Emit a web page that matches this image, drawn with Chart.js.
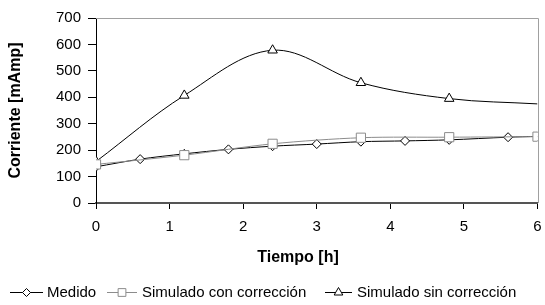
<!DOCTYPE html>
<html>
<head>
<meta charset="utf-8">
<script src="https://cdn.jsdelivr.net/npm/chart.js@4/dist/chart.umd.min.js"></script>
<style>
html,body{margin:0;padding:0;background:#fff;}
#wrap{position:relative;width:545px;height:305px;}
</style>
</head>
<body>
<div id="wrap"><canvas id="c" width="545" height="305"></canvas></div>
<script>
// Data
const medidoX = [0, 0.6, 1.2, 1.8, 2.4, 3.0, 3.6, 4.2, 4.8, 5.6, 6.0];
const medidoY = [137, 166, 186, 203, 215, 223, 232, 235, 239, 249, 252];
const conCorrX = [0, 1.2, 2.4, 3.6, 4.8, 6.0];
const conCorrY = [146, 181, 224, 247, 249, 251];
const sinCorrX = [0, 1.2, 2.4, 3.6, 4.8, 6.0];
const sinCorrY = [157, 407, 578, 455, 395, 375];
const sinCorrMarkers = [true, true, true, true, true, false];
const seriesNames = ['Medido', 'Simulado con corrección', 'Simulado sin corrección'];
const xTitle = 'Tiempo [h]';
const yTitle = 'Corriente [mAmp]';

const pts = (xs, ys) => xs.map((x, i) => ({x: x, y: ys[i]}));
const FONT = "'Liberation Sans', Arial, sans-serif";

const frame = {
  id: 'frame',
  afterDraw(chart) {
    const {ctx, chartArea: a} = chart;
    ctx.save();
    ctx.strokeStyle = '#a0a0a0';
    ctx.lineWidth = 1;
    ctx.beginPath();
    ctx.moveTo(a.left, a.top + 0.5);
    ctx.lineTo(Math.round(a.right) + 0.5, a.top + 0.5);
    ctx.lineTo(Math.round(a.right) + 0.5, a.bottom);
    ctx.stroke();
    // x axis title (offset left of plot center as in the reference)
    ctx.fillStyle = '#000';
    ctx.font = "bold 16px " + FONT;
    ctx.textAlign = 'center';
    ctx.textBaseline = 'middle';
    ctx.fillText(xTitle, 298, 258);
    ctx.restore();
  }
};

const legendLine = [[10, 43], [107, 137], [325, 352]];
const legendText = [47, 142, 357];
const customLegend = {
  id: 'customLegend',
  afterDraw(chart) {
    const ctx = chart.ctx;
    const y = 292;
    chart.data.datasets.forEach((ds, i) => {
      const [l0, l1] = legendLine[i];
      ctx.save();
      ctx.strokeStyle = ds.borderColor;
      ctx.lineWidth = 1;
      ctx.beginPath();
      ctx.moveTo(l0, y + 0.5);
      ctx.lineTo(l1, y + 0.5);
      ctx.stroke();
      ctx.fillStyle = '#fff';
      ctx.strokeStyle = ds.pointBorderColor;
      ctx.lineWidth = 1;
      Chart.helpers.drawPoint(ctx, {
        pointStyle: ds.pointStyle,
        radius: ds.legendRadius,
        borderWidth: 1
      }, (l0 + l1) / 2, y + 0.5);
      ctx.fillStyle = '#000';
      ctx.font = "15px " + FONT;
      ctx.textBaseline = 'middle';
      ctx.fillText(ds.label, legendText[i], y + 1);
      ctx.restore();
    });
  }
};

new Chart(document.getElementById('c'), {
  type: 'scatter',
  data: {
    datasets: [
      {
        label: seriesNames[0],
        data: pts(medidoX, medidoY),
        showLine: true,
        tension: 0.3,
        borderColor: '#000',
        borderWidth: 1,
        pointStyle: 'rectRot',
        pointRadius: 4.5,
        legendRadius: 4,
        pointBackgroundColor: '#fff',
        pointBorderColor: '#000',
        pointBorderWidth: 1,
        order: 1
      },
      {
        label: seriesNames[1],
        data: pts(conCorrX, conCorrY),
        showLine: true,
        tension: 0.3,
        borderColor: '#8c8c8c',
        borderWidth: 1,
        pointStyle: 'rect',
        pointRadius: 6.5,
        legendRadius: 5.5,
        pointBackgroundColor: '#fff',
        pointBorderColor: '#8c8c8c',
        pointBorderWidth: 1,
        order: 0
      },
      {
        label: seriesNames[2],
        data: pts(sinCorrX, sinCorrY),
        showLine: true,
        tension: 0.35,
        borderColor: '#000',
        borderWidth: 1,
        pointStyle: 'triangle',
        pointRadius: sinCorrMarkers.map(m => m ? 5.5 : 0),
        legendRadius: 5,
        pointBackgroundColor: '#fff',
        pointBorderColor: '#000',
        pointBorderWidth: 1,
        order: 2
      }
    ]
  },
  options: {
    responsive: false,
    animation: false,
    events: [],
    layout: {padding: {top: 18, right: 6, bottom: 30, left: 0}},
    plugins: {legend: {display: false}, tooltip: {enabled: false}},
    scales: {
      x: {
        type: 'linear',
        min: 0, max: 6,
        afterFit: s => { s.height = 72; s.paddingLeft = 0; s.paddingRight = 0; },
        ticks: {stepSize: 1, color: '#000', font: {family: FONT, size: 15}, padding: 9},
        grid: {display: true, drawOnChartArea: false, drawTicks: true, tickLength: 6, color: '#000', lineWidth: 1},
        border: {display: true, color: '#555', width: 2},
        title: {display: false}
      },
      y: {
        min: 0, max: 700,
        afterFit: s => { s.width = 96; s.paddingTop = 0; s.paddingBottom = 0; },
        ticks: {stepSize: 100, color: '#000', font: {family: FONT, size: 15}, padding: 7},
        grid: {display: true, drawOnChartArea: false, drawTicks: true, tickLength: 8, color: '#000', lineWidth: 1},
        border: {display: true, color: '#000', width: 1},
        title: {display: true, text: yTitle, color: '#000', font: {family: FONT, size: 16, weight: 'bold'}, padding: {top: 6, bottom: 0}}
      }
    }
  },
  plugins: [frame, customLegend]
});
</script>
</body>
</html>
